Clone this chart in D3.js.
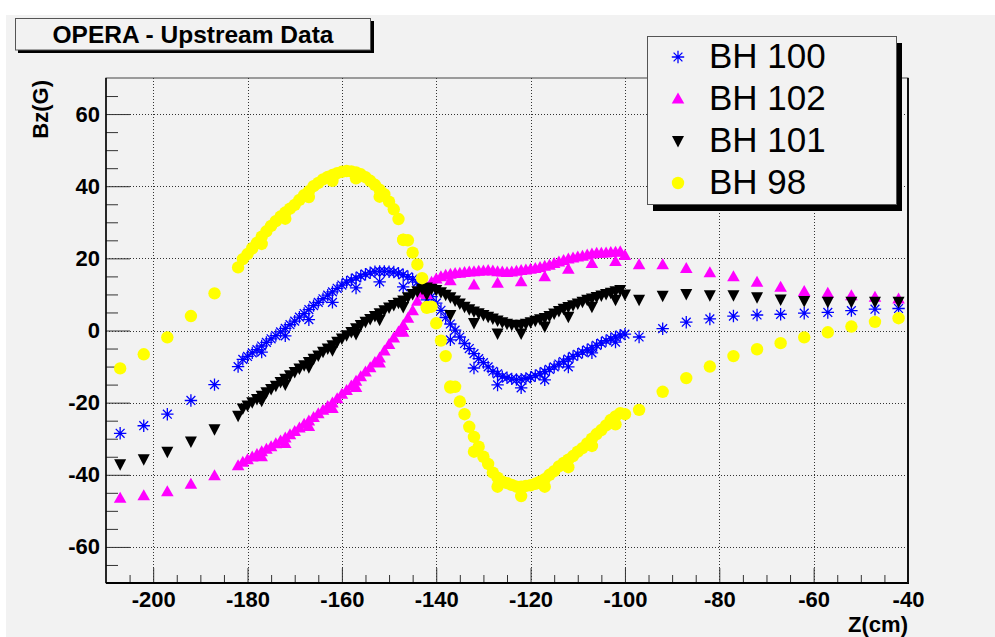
<!DOCTYPE html>
<html>
<head>
<meta charset="utf-8">
<script src="https://cdn.jsdelivr.net/npm/d3@7/dist/d3.min.js"></script>
<style>
  body { margin: 0; background: #ffffff; }
  svg { display: block; font-family: "Liberation Sans", Arial, Helvetica, sans-serif; }
</style>
</head>
<body>
<div id="chart"></div>
<script>
// Z positions (cm): coarse scan every 5 cm, fine scan every 1 cm
let zCoarse = [-207, -202, -197, -192, -187, -182, -177, -172, -167, -162, -157, -152,
    -147, -142, -137, -132, -127, -122, -117, -112, -107, -102, -97, -92, -87, -82,
    -77, -72, -67, -62, -57, -52, -47, -42];
let zFine = [-181, -180, -179, -178, -177, -176, -175, -174, -173, -172,
    -171, -170, -169, -168, -167, -166, -165, -164, -163, -162,
    -161, -160, -159, -158, -157, -156, -155, -154, -153, -152,
    -151, -150, -149, -148, -147, -146, -145, -144, -143, -142,
    -141, -140, -139, -138, -137, -136, -135, -134, -133, -132,
    -131, -130, -129, -128, -127, -126, -125, -124, -123, -122,
    -121, -120, -119, -118, -117, -116, -115, -114, -113, -112,
    -111, -110, -109, -108, -107, -106, -105, -104, -103, -102,
    -101, -100];

// Bz (G) per hall probe
let bh100Coarse = [-28.5, -26.4, -23.2, -19.4, -15.0, -10.0, -6.0, -1.5, 3.0, 7.8, 11.8, 13.5,
    12.1, 8.5, -2.6, -10.4, -15.1, -15.9, -13.7, -10.1, -6.2, -3.2, -1.8, 0.5, 2.3, 3.2,
    4.0, 4.3, 4.5, 4.8, 5.0, 5.5, 5.9, 6.1];
let bh100Fine = [-8.0, -7.2, -6.2, -5.3, -4.3, -3.3, -2.3, -1.4, -0.4, 0.6,
    1.6, 2.6, 3.7, 4.7, 5.8, 6.9, 7.8, 8.8, 9.8, 10.7,
    11.7, 12.6, 13.4, 14.0, 14.6, 15.1, 15.6, 16.0, 16.3, 16.4,
    16.4, 16.3, 16.2, 15.9, 15.5, 14.9, 14.2, 13.4, 12.4, 11.0,
    9.4, 7.6, 5.6, 3.6, 1.8, 0.1, -1.8, -3.6, -5.0, -6.4,
    -7.8, -8.9, -10.1, -11.3, -12.0, -12.8, -13.1, -13.4, -13.6, -13.5,
    -13.3, -13.0, -12.5, -12.0, -11.4, -10.8, -10.1, -9.3, -8.6, -7.9,
    -7.2, -6.6, -6.0, -5.4, -4.8, -4.1, -3.5, -2.8, -2.3, -1.8,
    -1.3, -1.0];

let bh102Coarse = [-46.5, -45.8, -44.7, -42.6, -40.3, -37.5, -35.0, -31.3, -26.6, -21.6, -15.8, -9.0,
    -0.5, 10.0, 13.8, 12.6, 13.1, 13.5, 14.9, 17.0, 18.6, 19.1, 18.2, 18.2, 17.2, 16.0,
    14.9, 13.4, 12.0, 10.8, 10.3, 9.6, 9.2, 8.7];
let bh102Fine = [-36.5, -35.8, -35.1, -34.4, -33.6, -32.9, -32.2, -31.4, -30.6, -29.8,
    -28.9, -28.0, -27.0, -26.0, -25.1, -24.1, -23.1, -22.1, -21.1, -20.1,
    -18.9, -17.7, -16.6, -15.4, -14.1, -12.8, -11.5, -10.3, -8.9, -7.6,
    -5.7, -3.9, -2.1, -0.4, 1.4, 3.4, 5.5, 8.1, 10.3, 12.0,
    13.4, 14.3, 14.9, 15.3, 15.6, 15.8, 15.9, 16.1, 16.2, 16.3,
    16.4, 16.5, 16.6, 16.5, 16.3, 16.2, 16.1, 16.2, 16.4, 16.6,
    16.8, 17.0, 17.2, 17.5, 17.8, 18.1, 18.6, 19.0, 19.4, 19.8,
    20.1, 20.4, 20.6, 20.9, 21.2, 21.4, 21.4, 21.5, 21.6, 21.7,
    21.8, 20.8];

let bh101Coarse = [-37.1, -35.7, -33.6, -30.8, -27.4, -23.6, -19.5, -15.0, -10.2, -5.5, -1.0, 3.0,
    6.5, 10.0, 4.3, 2.1, -0.8, -0.8, 1.1, 3.8, 6.6, 8.5, 8.5, 9.6, 10.1, 9.8,
    9.8, 9.2, 8.6, 8.2, 8.0, 8.0, 8.0, 8.0];
let bh101Fine = [-21.6, -20.8, -19.9, -19.0, -18.1, -17.1, -16.2, -15.3, -14.3, -13.4,
    -12.4, -11.5, -10.5, -9.6, -8.7, -7.8, -6.9, -5.9, -5.0, -4.1,
    -3.1, -2.2, -1.3, -0.4, 0.6, 1.5, 2.4, 3.2, 4.0, 4.8,
    5.6, 6.4, 7.1, 7.7, 8.3, 9.2, 10.1, 10.9, 11.6, 11.9,
    11.6, 11.2, 10.6, 9.9, 9.2, 8.3, 7.5, 6.6, 5.9, 5.3,
    4.8, 4.3, 3.8, 3.3, 2.8, 2.3, 1.9, 1.6, 1.5, 1.6,
    1.9, 2.3, 2.7, 3.1, 3.5, 4.0, 4.7, 5.4, 6.0, 6.5,
    7.0, 7.5, 8.0, 8.5, 8.9, 9.3, 9.7, 10.1, 10.5, 10.9,
    11.2, 10.0];

let bh98Coarse = [-10.5, -6.6, -1.9, 4.0, 10.3, 17.5, 24.0, 31.0, 37.0, 41.5, 42.2, 37.1,
    25.1, 6.5, -15.5, -33.6, -43.3, -45.9, -43.3, -37.9, -32.0, -26.0, -22.0, -17.0, -13.2, -10.0,
    -7.1, -5.2, -3.5, -1.9, -0.5, 1.1, 2.4, 3.4];
let bh98Fine = [19.8, 21.2, 22.8, 24.3, 26.0, 27.5, 29.0, 30.3, 31.6, 32.7,
    33.8, 34.8, 36.2, 37.5, 38.6, 40.0, 40.9, 41.9, 42.6, 43.1,
    43.6, 44.0, 44.2, 44.1, 43.8, 43.3, 42.5, 41.5, 40.4, 39.0,
    37.8, 35.7, 33.6, 30.9, 25.2, 25.0, 21.6, 18.3, 14.5, 6.3,
    6.6, 2.0, -2.8, -7.1, -15.8, -15.6, -19.7, -23.2, -26.7, -29.5,
    -32.2, -35.0, -37.0, -39.4, -40.8, -41.9, -42.3, -42.8, -43.3, -43.3,
    -43.1, -42.9, -42.5, -41.9, -41.2, -40.0, -39.0, -37.7, -36.7, -35.8,
    -34.8, -33.6, -32.6, -31.3, -30.0, -28.7, -27.6, -26.3, -24.8, -23.8,
    -22.9, -23.2];

let seriesNames = ['BH 100', 'BH 102', 'BH 101', 'BH 98'];
let xTicks = [-200, -180, -160, -140, -120, -100, -80, -60, -40];
let yTicks = [-60, -40, -20, 0, 20, 40, 60];
let xDomain = [-210, -40];
let yDomain = [-70, 70];

let W = 995, H = 637;
let frame = { left: 106, right: 908, top: 78, bottom: 583 };
let bgColor = '#f2f2f2';

function makePoints(zs, bs) {
    return zs.map(function (z, i) { return { x: z, y: bs[i] }; });
}

// ROOT style labels: plain hyphen for negatives
function tickLabel(v) { return String(v); }

let series = [
    { name: seriesNames[0], marker: 'star', color: '#0000ff',
      pts: makePoints(zCoarse, bh100Coarse).concat(makePoints(zFine, bh100Fine)) },
    { name: seriesNames[1], marker: 'up', color: '#ff00ff',
      pts: makePoints(zCoarse, bh102Coarse).concat(makePoints(zFine, bh102Fine)) },
    { name: seriesNames[2], marker: 'down', color: '#000000',
      pts: makePoints(zCoarse, bh101Coarse).concat(makePoints(zFine, bh101Fine)) },
    { name: seriesNames[3], marker: 'circle', color: '#ffff00',
      pts: makePoints(zCoarse, bh98Coarse).concat(makePoints(zFine, bh98Fine)) }
];

let svg = d3.select('#chart').append('svg')
    .attr('width', W).attr('height', H);

// canvas
svg.append('rect').attr('x', 6).attr('y', 15).attr('width', W - 6).attr('height', H - 15)
    .attr('fill', bgColor);

let sx = d3.scaleLinear().domain(xDomain).range([frame.left, frame.right]);
let sy = d3.scaleLinear().domain(yDomain).range([frame.bottom, frame.top]);

// frame
svg.append('rect')
    .attr('x', frame.left).attr('y', frame.top)
    .attr('width', frame.right - frame.left).attr('height', frame.bottom - frame.top)
    .attr('fill', bgColor).attr('stroke', '#444').attr('stroke-width', 1);

// grid
let grid = svg.append('g').attr('class', 'grid')
    .attr('stroke', '#333').attr('stroke-width', 1).attr('stroke-dasharray', '1,2');
grid.selectAll('line.gx').data(xTicks.filter(function (t) { return t > xDomain[0] && t < xDomain[1]; }))
    .enter().append('line').attr('class', 'gx')
    .attr('x1', function (d) { return Math.round(sx(d)) + 0.5; })
    .attr('x2', function (d) { return Math.round(sx(d)) + 0.5; })
    .attr('y1', frame.top).attr('y2', frame.bottom);
grid.selectAll('line.gy').data(yTicks)
    .enter().append('line').attr('class', 'gy')
    .attr('y1', function (d) { return Math.round(sy(d)) + 0.5; })
    .attr('y2', function (d) { return Math.round(sy(d)) + 0.5; })
    .attr('x1', frame.left).attr('x2', frame.right);

// axes (ticks point inward, like ROOT)
let xMinor = d3.range(xDomain[0] + 5, xDomain[1], 5).filter(function (v) { return xTicks.indexOf(v) < 0; });
let yMinor = d3.range(yDomain[0] + 5, yDomain[1], 5).filter(function (v) { return yTicks.indexOf(v) < 0; });

let gx = svg.append('g').attr('transform', 'translate(0,' + frame.bottom + ')');
gx.call(d3.axisBottom(sx).tickValues(xTicks).tickSize(-15).tickPadding(8)
    .tickFormat(tickLabel));
gx.append('g').call(d3.axisBottom(sx).tickValues(xMinor).tickSize(-8).tickFormat(''));

let gy = svg.append('g').attr('transform', 'translate(' + frame.left + ',0)');
gy.call(d3.axisLeft(sy).tickValues(yTicks).tickSize(-24).tickPadding(6)
    .tickFormat(tickLabel));
gy.append('g').call(d3.axisLeft(sy).tickValues(yMinor).tickSize(-12).tickFormat(''));

svg.selectAll('.domain').remove();
svg.selectAll('.tick line').attr('stroke', '#333').attr('stroke-width', 1);
gx.selectAll('.tick text').attr('font-size', 22).attr('font-weight', 'bold').attr('fill', '#000')
    .attr('dy', '0.71em');
gy.selectAll('.tick text').attr('font-size', 22).attr('font-weight', 'bold').attr('fill', '#000');

// axis lines
svg.append('line').attr('x1', frame.left).attr('x2', frame.right + 1)
    .attr('y1', frame.bottom).attr('y2', frame.bottom)
    .attr('stroke', '#000').attr('stroke-width', 2);
svg.append('line').attr('x1', frame.left).attr('x2', frame.left)
    .attr('y1', frame.top).attr('y2', frame.bottom)
    .attr('stroke', '#000').attr('stroke-width', 1.5);
svg.append('line').attr('x1', frame.right).attr('x2', frame.right)
    .attr('y1', frame.top).attr('y2', frame.bottom)
    .attr('stroke', '#111').attr('stroke-width', 2);

// axis titles
svg.append('text').attr('x', frame.right).attr('y', 632)
    .attr('text-anchor', 'end').attr('font-size', 22).attr('font-weight', 'bold')
    .text('Z(cm)');
svg.append('text').attr('transform', 'translate(48,' + (frame.top + 2) + ') rotate(-90)')
    .attr('text-anchor', 'end').attr('font-size', 22).attr('font-weight', 'bold')
    .text('Bz(G)');

// markers
function drawMarker(g, kind, color) {
    if (kind === 'circle') {
        g.append('circle').attr('r', 6.2).attr('fill', color);
    } else if (kind === 'up') {
        g.append('path').attr('d', 'M0,-6.5L6.3,4.5L-6.3,4.5Z').attr('fill', color);
    } else if (kind === 'down') {
        g.append('path').attr('d', 'M0,6.5L6,-5L-6,-5Z').attr('fill', color);
    } else {
        g.append('path')
            .attr('d', 'M-6.2,0H6.2M0,-6.2V6.2M-4.4,-4.4L4.4,4.4M-4.4,4.4L4.4,-4.4')
            .attr('stroke', color).attr('stroke-width', 1.3).attr('fill', 'none');
        g.append('circle').attr('r', 1.3).attr('fill', color);
    }
}

let plot = svg.append('g').attr('class', 'points');
series.forEach(function (s) {
    let g = plot.append('g');
    g.selectAll('g.pt').data(s.pts).enter().append('g').attr('class', 'pt')
        .attr('transform', function (d) { return 'translate(' + sx(d.x) + ',' + sy(d.y) + ')'; })
        .each(function () { drawMarker(d3.select(this), s.marker, s.color); });
});

// title box
svg.append('rect').attr('x', 18).attr('y', 21).attr('width', 356).attr('height', 32).attr('fill', '#000');
svg.append('rect').attr('x', 15.5).attr('y', 18.5).attr('width', 355).attr('height', 31.5)
    .attr('fill', bgColor).attr('stroke', '#555').attr('stroke-width', 1);
svg.append('text').attr('x', 193).attr('y', 43).attr('text-anchor', 'middle')
    .attr('font-size', 24.5).attr('font-weight', 'bold').text('OPERA - Upstream Data');

// legend
let lg = { x: 647, y: 36, w: 249, h: 168 };
svg.append('rect').attr('x', lg.x + 6).attr('y', lg.y + 7).attr('width', lg.w).attr('height', lg.h).attr('fill', '#000');
svg.append('rect').attr('x', lg.x + 0.5).attr('y', lg.y + 0.5).attr('width', lg.w).attr('height', lg.h)
    .attr('fill', bgColor).attr('stroke', '#555').attr('stroke-width', 1);
let rowY = [57, 99, 141, 183];
series.forEach(function (s, i) {
    let row = svg.append('g').attr('transform', 'translate(0,' + rowY[i] + ')');
    drawMarker(row.append('g').attr('transform', 'translate(678,0)'), s.marker, s.color);
    row.append('text').attr('x', 709).attr('y', 11).attr('font-size', 35).text(s.name);
});
</script>
</body>
</html>
